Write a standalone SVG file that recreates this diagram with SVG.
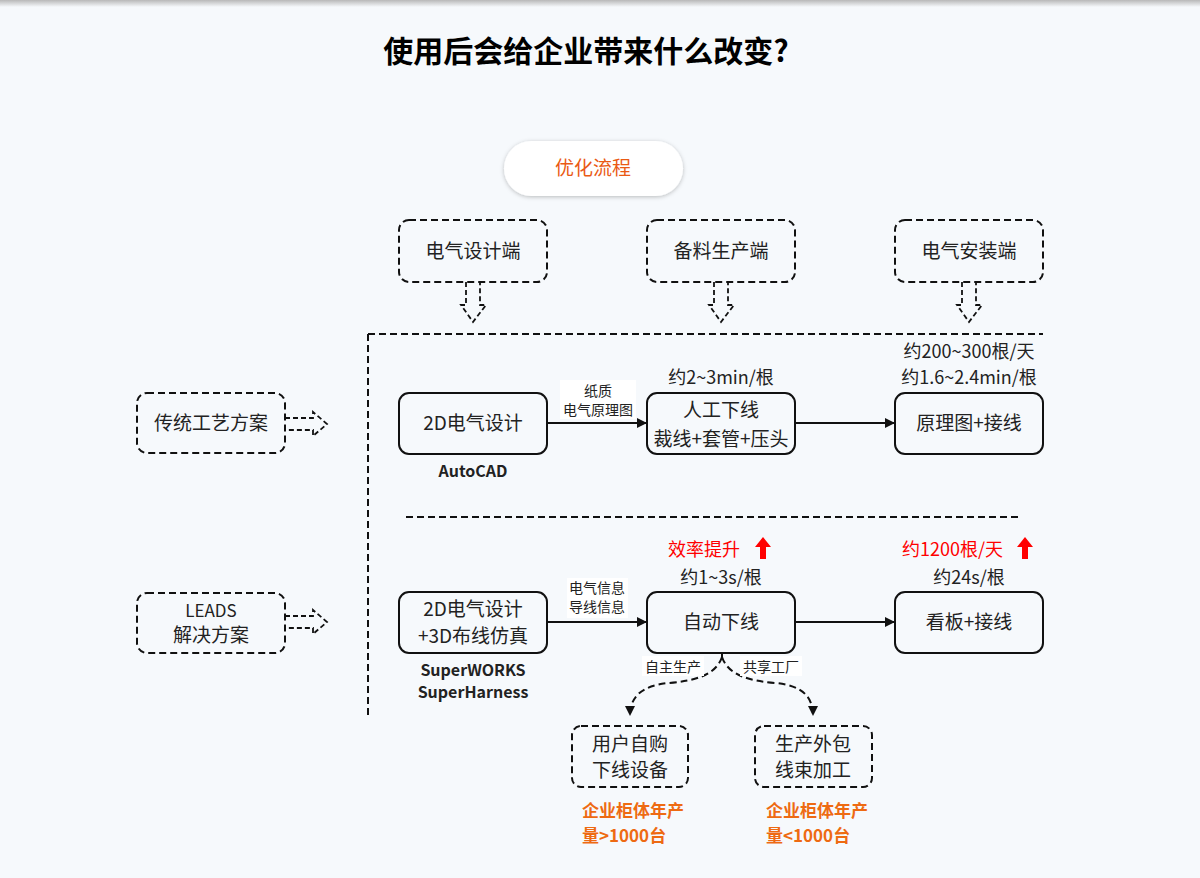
<svg xmlns="http://www.w3.org/2000/svg" width="1200" height="878" viewBox="0 0 1200 878">
<defs>
<style>
.t{font-family:"Noto Sans CJK SC","Liberation Sans",sans-serif;fill:#222;}
.box{fill:none;stroke:#111;stroke-width:2;}
.dbox{fill:none;stroke:#111;stroke-width:2;stroke-dasharray:7 4;}
.dl{fill:none;stroke:#111;stroke-width:2;stroke-dasharray:7 4;}
.ha{fill:none;stroke:#111;stroke-width:1.8;stroke-dasharray:5 3;}
.con{fill:none;stroke:#111;stroke-width:2;}
.lbl{fill:#fff;}
.red{fill:#ff0000;}
.org{fill:#ee6a12;font-weight:bold;}
</style>
<marker id="ah" viewBox="0 0 10 10" refX="10" refY="5" markerWidth="10" markerHeight="10" markerUnits="userSpaceOnUse" orient="auto"><path d="M0,0 L10,5 L0,10 z" fill="#111"/></marker>
<linearGradient id="topg" x1="0" y1="0" x2="0" y2="1"><stop offset="0" stop-color="#b8b8b8"/><stop offset="1" stop-color="#f6f9fc"/></linearGradient>
<filter id="sh" x="-20%" y="-40%" width="140%" height="180%"><feDropShadow dx="0" dy="1" stdDeviation="2" flood-color="#000" flood-opacity="0.25"/></filter>
</defs>
<rect width="1200" height="878" fill="#f6f9fc"/>
<rect width="1200" height="7" fill="url(#topg)"/>

<text class="t" x="586" y="62" font-size="30" font-weight="bold" text-anchor="middle" fill="#000" style="fill:#000">使用后会给企业带来什么改变?</text>

<g id="pill">
<rect x="504" y="141" width="179" height="55" rx="27.5" fill="#fff" filter="url(#sh)"/>
<text class="t" x="593" y="175" font-size="19" text-anchor="middle" style="fill:#ea5a14">优化流程</text>
</g>

<g id="top1"><rect class="dbox" x="399" y="220" width="148" height="62" rx="10"/><text class="t" x="473" y="258" font-size="19" text-anchor="middle">电气设计端</text></g>
<g id="top2"><rect class="dbox" x="647" y="220" width="148" height="62" rx="10"/><text class="t" x="721" y="258" font-size="19" text-anchor="middle">备料生产端</text></g>
<g id="top3"><rect class="dbox" x="895" y="220" width="148" height="62" rx="10"/><text class="t" x="969" y="258" font-size="19" text-anchor="middle">电气安装端</text></g>

<g id="left1"><rect class="dbox" x="137" y="393" width="148" height="60" rx="10"/><text class="t" x="211" y="430" font-size="19" text-anchor="middle">传统工艺方案</text></g>
<g id="left2"><rect class="dbox" x="137" y="593" width="148" height="60" rx="10"/><text class="t" x="211" y="617" font-size="17" text-anchor="middle">LEADS</text><text class="t" x="211" y="642" font-size="19" text-anchor="middle">解决方案</text></g>

<g id="n1"><rect class="box" x="399" y="393" width="148" height="61" rx="10"/><text class="t" x="473" y="430" font-size="19" text-anchor="middle">2D电气设计</text><text class="t" x="473" y="477" font-size="16" font-weight="bold" text-anchor="middle">AutoCAD</text></g>
<g id="n2"><rect class="box" x="647" y="393" width="148" height="61" rx="10"/><text class="t" x="721" y="417" font-size="19" text-anchor="middle">人工下线</text><text class="t" x="721" y="446" font-size="19" text-anchor="middle">裁线+套管+压头</text><text class="t" x="721" y="384" font-size="18" text-anchor="middle">约2~3min/根</text></g>
<g id="n3"><rect class="box" x="895" y="393" width="148" height="61" rx="10"/><text class="t" x="969" y="430" font-size="19" text-anchor="middle">原理图+接线</text><text class="t" x="969" y="358" font-size="18" text-anchor="middle">约200~300根/天</text><text class="t" x="969" y="384" font-size="18" text-anchor="middle">约1.6~2.4min/根</text></g>

<g id="n4"><rect class="box" x="399" y="592" width="148" height="61" rx="10"/><text class="t" x="473" y="616" font-size="19" text-anchor="middle">2D电气设计</text><text class="t" x="473" y="643" font-size="19" text-anchor="middle">+3D布线仿真</text><text class="t" x="473" y="676" font-size="16" font-weight="bold" text-anchor="middle">SuperWORKS</text><text class="t" x="473" y="698" font-size="16" font-weight="bold" text-anchor="middle">SuperHarness</text></g>
<g id="n5"><rect class="box" x="647" y="592" width="148" height="61" rx="10"/><text class="t" x="721" y="629" font-size="19" text-anchor="middle">自动下线</text><text class="t" x="721" y="584" font-size="18" text-anchor="middle">约1~3s/根</text><text class="t red" x="668" y="556" font-size="18" style="fill:#ff0000">效率提升</text><path class="red" d="M763,537 L771,547 L766,547 L766,559 L760,559 L760,547 L755,547 Z"/></g>
<g id="n6"><rect class="box" x="895" y="592" width="148" height="61" rx="10"/><text class="t" x="969" y="629" font-size="19" text-anchor="middle">看板+接线</text><text class="t" x="969" y="584" font-size="18" text-anchor="middle">约24s/根</text><text class="t red" x="902" y="556" font-size="18" style="fill:#ff0000">约1200根/天</text><path class="red" d="M1025,537 L1033,547 L1028,547 L1028,559 L1022,559 L1022,547 L1017,547 Z"/></g>

<g id="n7"><rect class="dbox" x="572" y="726" width="116" height="61" rx="9"/><text class="t" x="630" y="751" font-size="19" text-anchor="middle">用户自购</text><text class="t" x="630" y="777" font-size="19" text-anchor="middle">下线设备</text><text class="t org" x="582" y="817" font-size="17">企业柜体年产</text><text class="t org" x="582" y="842" font-size="17">量&gt;1000台</text></g>
<g id="n8"><rect class="dbox" x="755" y="726" width="117" height="61" rx="9"/><text class="t" x="813" y="751" font-size="19" text-anchor="middle">生产外包</text><text class="t" x="813" y="777" font-size="19" text-anchor="middle">线束加工</text><text class="t org" x="766" y="817" font-size="17">企业柜体年产</text><text class="t org" x="766" y="842" font-size="17">量&lt;1000台</text></g>

<g id="connectors">
<path class="ha" d="M466,282 V305 H461 L473,322 L486,305 H480 V282"/>
<path class="ha" d="M714,282 V305 H709 L721,322 L734,305 H728 V282"/>
<path class="ha" d="M962,282 V305 H957 L969,322 L982,305 H976 V282"/>
<path class="ha" d="M285,418 H313 V412 L327,424 L313,436 V430 H285"/>
<path class="ha" d="M285,616 H313 V610 L327,622 L313,634 V628 H285"/>
<path class="dl" d="M368,334 H1043"/>
<path class="dl" d="M368,334 V716"/>
<path class="dl" d="M406,517 H1018"/>
<path class="con" d="M547,423 H647" marker-end="url(#ah)"/>
<path class="con" d="M795,423 H895" marker-end="url(#ah)"/>
<path class="con" d="M547,622 H647" marker-end="url(#ah)"/>
<path class="con" d="M795,622 H895" marker-end="url(#ah)"/>
<rect class="lbl" x="560" y="380" width="76" height="39"/>
<text class="t" x="598" y="396" font-size="14" text-anchor="middle">纸质</text>
<text class="t" x="598" y="415" font-size="14" text-anchor="middle">电气原理图</text>
<rect class="lbl" x="567" y="578" width="61" height="40"/>
<text class="t" x="597" y="593" font-size="14" text-anchor="middle">电气信息</text>
<text class="t" x="597" y="612" font-size="14" text-anchor="middle">导线信息</text>
<path class="con" d="M722,653 V658"/>
<path class="dl" d="M722,657 C716,675 695,681 668,683 C640,686 630,698 630,716" marker-end="url(#ah)"/>
<path class="dl" d="M722,657 C728,675 749,681 776,683 C804,686 813,698 813,716" marker-end="url(#ah)"/>
<rect class="lbl" x="642" y="656" width="62" height="20"/>
<text class="t" x="673" y="672" font-size="14" text-anchor="middle">自主生产</text>
<rect class="lbl" x="740" y="656" width="62" height="20"/>
<text class="t" x="771" y="672" font-size="14" text-anchor="middle">共享工厂</text>
</g>
</svg>
